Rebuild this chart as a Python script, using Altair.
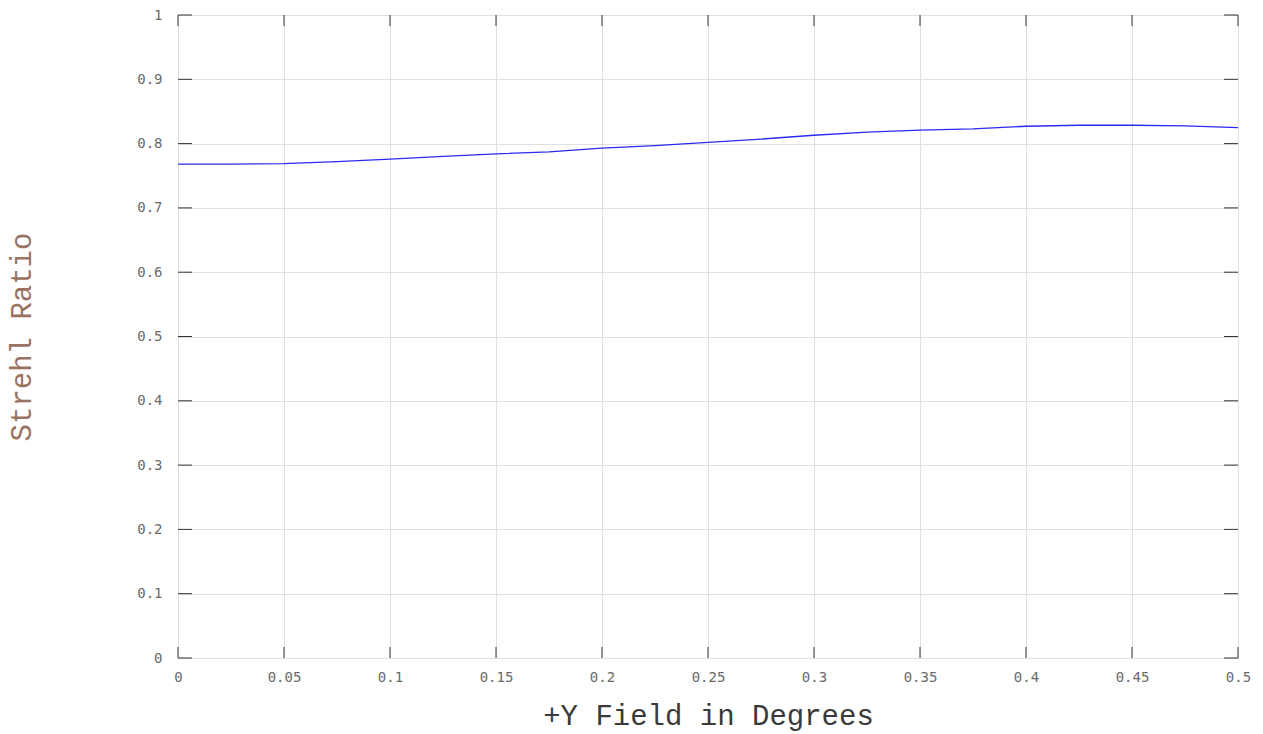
import altair as alt
import pandas as pd

field_deg = [0.0, 0.025, 0.05, 0.075, 0.1, 0.125, 0.15, 0.175, 0.2, 0.225, 0.25,
             0.275, 0.3, 0.325, 0.35, 0.375, 0.4, 0.425, 0.45, 0.475, 0.5]
strehl = [0.768, 0.768, 0.769, 0.772, 0.776, 0.780, 0.784, 0.787, 0.793, 0.797, 0.802,
          0.807, 0.813, 0.818, 0.821, 0.823, 0.827, 0.8285, 0.8285, 0.8277, 0.8248]

x_ticks = [0, 0.05, 0.1, 0.15, 0.2, 0.25, 0.3, 0.35, 0.4, 0.45, 0.5]
y_ticks = [0, 0.1, 0.2, 0.3, 0.4, 0.5, 0.6, 0.7, 0.8, 0.9, 1]

W, H = 1060, 643
df = pd.DataFrame({"x": field_deg, "y": strehl})
xt = pd.DataFrame({"x": x_ticks})
yt = pd.DataFrame({"y": y_ticks})

xs = alt.Scale(domain=[0, 0.5], nice=False, zero=False)
ys = alt.Scale(domain=[0, 1], nice=False, zero=False)

label_font = "DejaVu Sans Mono"
title_font = "Courier New, Liberation Mono, monospace"

line = alt.Chart(df).mark_line(color="#2a2af5", strokeWidth=1.3, clip=True).encode(
    x=alt.X("x:Q", scale=xs, axis=alt.Axis(
        values=x_ticks, format="~g", grid=True, gridColor="#e0e0e0", gridWidth=1,
        ticks=False, domain=False, labelFont=label_font, labelFontSize=14,
        labelColor="#6a6a6a", labelPadding=12, labelFlush=False,
        title="+Y Field in Degrees", titleFont=title_font, titleFontSize=29,
        titleFontWeight="normal", titleColor="#3a3a3a", titleX=W / 2, titleY=57,
        titleBaseline="middle")),
    y=alt.Y("y:Q", scale=ys, axis=alt.Axis(
        values=y_ticks, format="~g", grid=True, gridColor="#e0e0e0", gridWidth=1,
        ticks=False, domain=False, labelFont=label_font, labelFontSize=14,
        labelColor="#6a6a6a", labelPadding=16, labelFlush=False,
        title="Strehl Ratio", titleFont=title_font, titleFontSize=29,
        titleFontWeight="normal", titleColor="#9a7262", titleX=-157, titleY=H / 2,
        titleAngle=-90, titleBaseline="middle", titleAlign="center")),
)

tick_color = "#333333"
# inward ticks on all four sides
xt_bottom = alt.Chart(xt).mark_rule(color=tick_color, strokeWidth=1).encode(
    x=alt.X("x:Q", scale=xs), y=alt.value(H), y2=alt.value(H - 11))
xt_top = alt.Chart(xt).mark_rule(color=tick_color, strokeWidth=1).encode(
    x=alt.X("x:Q", scale=xs), y=alt.value(0), y2=alt.value(11))
yt_left = alt.Chart(yt).mark_rule(color=tick_color, strokeWidth=1).encode(
    y=alt.Y("y:Q", scale=ys), x=alt.value(0), x2=alt.value(14))
yt_right = alt.Chart(yt).mark_rule(color=tick_color, strokeWidth=1).encode(
    y=alt.Y("y:Q", scale=ys), x=alt.value(W), x2=alt.value(W - 14))

chart = alt.layer(line, xt_bottom, xt_top, yt_left, yt_right).properties(
    width=W, height=H,
    autosize=alt.AutoSizeParams(type="none"),
    padding={"left": 170, "top": 7, "right": 17, "bottom": 76},
).configure_view(stroke="#5a5a5a", strokeWidth=2).configure(background="white")

chart.save("out.html", embed_options={"renderer": "svg", "actions": False})
